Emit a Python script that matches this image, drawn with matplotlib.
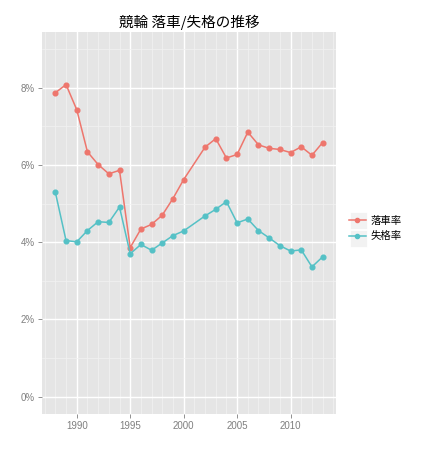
import matplotlib
matplotlib.use("Agg")
import matplotlib.pyplot as plt
from matplotlib.patches import Rectangle
from matplotlib.ticker import FixedLocator, FuncFormatter

years = [1988, 1989, 1990, 1991, 1992, 1993, 1994, 1995, 1996, 1997, 1998, 1999, 2000,
         2002, 2003, 2004, 2005, 2006, 2007, 2008, 2009, 2010, 2011, 2012, 2013]
rakusha = [7.87, 8.08, 7.43, 6.34, 6.01, 5.77, 5.86, 3.86, 4.34, 4.46, 4.70, 5.13, 5.62,
           6.46, 6.68, 6.18, 6.27, 6.85, 6.52, 6.43, 6.40, 6.32, 6.47, 6.25, 6.58]
shikkaku = [5.29, 4.04, 4.01, 4.30, 4.53, 4.51, 4.91, 3.70, 3.94, 3.79, 3.98, 4.17, 4.29,
            4.68, 4.85, 5.05, 4.50, 4.60, 4.30, 4.11, 3.91, 3.77, 3.80, 3.36, 3.62]
series_names = ["落車率", "失格率"]
title = "競輪 落車/失格の推移"
x_ticks = [1990, 1995, 2000, 2005, 2010]
y_ticks = [0, 2, 4, 6, 8]

cjk = ["Noto Sans CJK JP", "DejaVu Sans"]
tickfont = ["Liberation Sans", "DejaVu Sans"]

fig = plt.figure(figsize=(4.27, 4.5), dpi=100)
ax = fig.add_axes([42/427, 1-414/450, (336-42)/427, (414-31.7)/450])
ax.set_facecolor("#E5E5E5")

colors = ["#EE766D", "#55C1C6"]
for vals, col, name in zip([rakusha, shikkaku], colors, series_names):
    ax.plot(years, vals, color=col, lw=1.1, marker="o", ms=3.4, mec=col, mfc=col,
            label=name, zorder=3)

ax.set_xlim(1986.75, 2014.25)
ax.set_ylim(-0.45, 9.45)
ax.xaxis.set_major_locator(FixedLocator(x_ticks))
ax.xaxis.set_minor_locator(FixedLocator([y for y in range(1987, 2015) if y not in x_ticks]))
ax.yaxis.set_major_locator(FixedLocator(y_ticks))
ax.yaxis.set_minor_locator(FixedLocator([1, 3, 5, 7, 9]))
ax.yaxis.set_major_formatter(FuncFormatter(lambda v, p: f"{int(v)}%"))
ax.grid(which="major", color="white", lw=1.0)
ax.grid(which="minor", color="#F2F2F2", lw=0.5)
ax.set_axisbelow(True)
for s in ax.spines.values():
    s.set_visible(False)
ax.tick_params(which="major", length=3, color="#7F7F7F", width=0.6,
               labelcolor="#7F7F7F", labelsize=7, pad=2)
ax.tick_params(which="minor", length=0)
for lab in ax.get_xticklabels() + ax.get_yticklabels():
    lab.set_family(tickfont)

fig.text((42+336)/2/427, 1-22/450, title, ha="center", va="center",
         fontsize=10.5, family=cjk, color="black")

# legend key backgrounds
for top in (212, 229.5):
    fig.patches.append(Rectangle((350.5/427, 1-(top+17)/450), 16.5/427, 17/450,
                                 transform=fig.transFigure, facecolor="#F2F2F2",
                                 edgecolor="white", lw=0.6, zorder=0))

leg = fig.legend(loc="center left", bbox_to_anchor=(349/427, 1-228.5/450), frameon=False,
                 prop={"family": cjk, "size": 7.5}, handlelength=1.6,
                 handletextpad=0.45, labelspacing=0.55, borderaxespad=0, borderpad=0)
for h in leg.legend_handles:
    h.set_markersize(3)

fig.savefig("out.png", dpi=100)
